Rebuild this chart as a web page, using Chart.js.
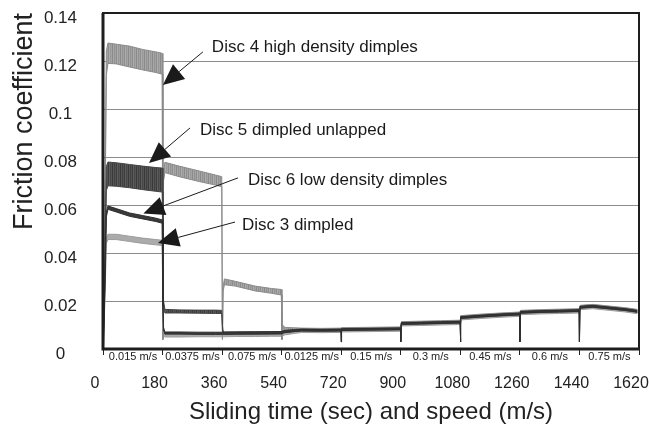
<!DOCTYPE html>
<html>
<head>
<meta charset="utf-8">
<script src="https://cdn.jsdelivr.net/npm/chart.js@4.4.0/dist/chart.umd.min.js"></script>
<style>
  html, body { margin: 0; padding: 0; background: #fff; }
</style>
</head>
<body>
<canvas id="friction" width="649" height="431"></canvas>
<script>
"use strict";

// sliding time (s) shared by all four disc traces
const timeSec = [0, 3, 6, 10, 15, 40, 80, 120, 160, 179,
  181, 183, 187, 230, 290, 340, 359, 361, 363, 367,
  400, 460, 510, 539, 541, 544, 550, 600, 660, 719,
  720, 721, 780, 840, 899, 900, 902, 960, 1020, 1079,
  1080, 1082, 1140, 1200, 1259, 1260, 1262, 1320, 1380, 1439,
  1440, 1442, 1480, 1530, 1580, 1615];

// each trace is noisy, so it is kept as an upper and lower edge of the band
const disc4Hi = [0, 0, 0.06, 0.124, 0.1275, 0.127, 0.1262, 0.1248, 0.1238, 0.1232,
  0.004, 0.074, 0.0778, 0.0762, 0.0742, 0.0725, 0.0718, 0.004, 0.026, 0.0292,
  0.0282, 0.0262, 0.0252, 0.0248, 0.004, 0.0098, 0.0090, 0.0087, 0.0086, 0.0087,
  0.0087, 0.0089, 0.0090, 0.0091, 0.0092, 0.0092, 0.0114, 0.0116, 0.0118, 0.0120,
  0.0120, 0.0139, 0.0145, 0.0150, 0.0154, 0.0154, 0.0161, 0.0164, 0.0166, 0.0168,
  0.0168, 0.0182, 0.0186, 0.0179, 0.0172, 0.0165];
const disc4Lo = [0, 0, 0.05, 0.114, 0.119, 0.1188, 0.1175, 0.1163, 0.1152, 0.1145,
  0.004, 0.070, 0.0735, 0.0718, 0.0698, 0.0683, 0.0676, 0.004, 0.024, 0.0268,
  0.0262, 0.0242, 0.0232, 0.0225, 0.004, 0.0086, 0.0078, 0.0075, 0.0074, 0.0075,
  0.0075, 0.0077, 0.0078, 0.0079, 0.0080, 0.0080, 0.0102, 0.0104, 0.0106, 0.0108,
  0.0108, 0.0127, 0.0133, 0.0138, 0.0142, 0.0142, 0.0149, 0.0152, 0.0154, 0.0156,
  0.0156, 0.0170, 0.0174, 0.0167, 0.0160, 0.0153];

const disc5Hi = [0, 0, 0.04, 0.076, 0.0779, 0.0776, 0.0769, 0.0762, 0.0756, 0.0754,
  0.040, 0.020, 0.0165, 0.0163, 0.0162, 0.0162, 0.0161, 0.010, 0.0075, 0.0071,
  0.0071, 0.0072, 0.0072, 0.0073, 0.0074, 0.0076, 0.0078, 0.0083, 0.0082, 0.0083,
  0.0083, 0.0085, 0.0086, 0.0087, 0.0088, 0.0088, 0.0110, 0.0112, 0.0114, 0.0116,
  0.0116, 0.0135, 0.0141, 0.0146, 0.0150, 0.0150, 0.0157, 0.0160, 0.0162, 0.0164,
  0.0164, 0.0178, 0.0182, 0.0175, 0.0168, 0.0161];
const disc5Lo = [0, 0, 0.03, 0.066, 0.068, 0.0678, 0.0672, 0.0664, 0.0657, 0.0654,
  0.036, 0.018, 0.0150, 0.0150, 0.0149, 0.0148, 0.0148, 0.008, 0.0065, 0.0062,
  0.0062, 0.0063, 0.0063, 0.0064, 0.0065, 0.0068, 0.0070, 0.0075, 0.0074, 0.0075,
  0.0075, 0.0077, 0.0078, 0.0079, 0.0080, 0.0080, 0.0102, 0.0104, 0.0106, 0.0108,
  0.0108, 0.0127, 0.0133, 0.0138, 0.0142, 0.0142, 0.0149, 0.0152, 0.0154, 0.0156,
  0.0156, 0.0170, 0.0174, 0.0167, 0.0160, 0.0153];

// disc 6 also carries the short stops between speed steps
const disc6Hi = [0, 0, 0.03, 0.057, 0.0596, 0.0585, 0.0567, 0.0556, 0.0545, 0.0538,
  0.020, 0.009, 0.0071, 0.0071, 0.0070, 0.0070, 0.0070, 0.0070, 0.0070, 0.0070,
  0.0071, 0.0071, 0.0072, 0.0072, 0.0073, 0.0074, 0.0076, 0.0082, 0.0081, 0.0082,
  0.0030, 0.0084, 0.0085, 0.0086, 0.0087, 0.0030, 0.0109, 0.0111, 0.0113, 0.0115,
  0.0030, 0.0134, 0.0140, 0.0145, 0.0149, 0.0030, 0.0156, 0.0159, 0.0161, 0.0163,
  0.0030, 0.0177, 0.0181, 0.0174, 0.0167, 0.0160];
const disc6Lo = [0, 0, 0.026, 0.055, 0.0582, 0.0571, 0.0553, 0.0542, 0.0531, 0.0524,
  0.018, 0.008, 0.0062, 0.0062, 0.0061, 0.0061, 0.0061, 0.0061, 0.0061, 0.0061,
  0.0062, 0.0062, 0.0063, 0.0063, 0.0064, 0.0066, 0.0068, 0.0076, 0.0075, 0.0076,
  0.0030, 0.0078, 0.0079, 0.0080, 0.0081, 0.0030, 0.0103, 0.0105, 0.0107, 0.0109,
  0.0030, 0.0128, 0.0134, 0.0139, 0.0143, 0.0030, 0.0150, 0.0153, 0.0155, 0.0157,
  0.0030, 0.0171, 0.0175, 0.0168, 0.0161, 0.0154];

const disc3Hi = [0, 0, 0.024, 0.046, 0.0478, 0.0478, 0.0470, 0.0462, 0.0456, 0.0453,
  0.015, 0.007, 0.0060, 0.0060, 0.0061, 0.0061, 0.0061, 0.0061, 0.0061, 0.0061,
  0.0062, 0.0062, 0.0063, 0.0063, 0.0064, 0.0066, 0.0069, 0.0077, 0.0076, 0.0077,
  0.0077, 0.0079, 0.0080, 0.0081, 0.0082, 0.0082, 0.0104, 0.0106, 0.0108, 0.0110,
  0.0110, 0.0129, 0.0135, 0.0140, 0.0144, 0.0144, 0.0151, 0.0154, 0.0156, 0.0158,
  0.0158, 0.0172, 0.0176, 0.0169, 0.0162, 0.0155];
const disc3Lo = [0, 0, 0.02, 0.044, 0.0456, 0.0456, 0.0448, 0.0440, 0.0434, 0.0431,
  0.012, 0.006, 0.0050, 0.0050, 0.0051, 0.0051, 0.0051, 0.0051, 0.0051, 0.0051,
  0.0052, 0.0052, 0.0053, 0.0053, 0.0054, 0.0056, 0.0059, 0.0069, 0.0068, 0.0069,
  0.0069, 0.0071, 0.0072, 0.0073, 0.0074, 0.0074, 0.0096, 0.0098, 0.0100, 0.0102,
  0.0102, 0.0121, 0.0127, 0.0132, 0.0136, 0.0136, 0.0143, 0.0146, 0.0148, 0.0150,
  0.0150, 0.0164, 0.0168, 0.0161, 0.0154, 0.0147];

// axis ticks
const timeTicks = [0, 180, 360, 540, 720, 900, 1080, 1260, 1440, 1620];
const speedLabels = ['0.015 m/s', '0.0375 m/s', '0.075 m/s', '0.0125 m/s', '0.15 m/s',
  '0.3 m/s', '0.45 m/s', '0.6 m/s', '0.75 m/s'];
const frictionTicks = [0, 0.02, 0.04, 0.06, 0.08, 0.1, 0.12, 0.14];

// arrow callouts, anchored in (time, friction) units
const callouts = [
  { text: 'Disc 4 high density dimples', at: [329, 0.1258], from: [302, 0.1238], tip: [181, 0.110] },
  { text: 'Disc 5 dimpled unlapped', at: [293, 0.0913], from: [263, 0.0921], tip: [139, 0.0775] },
  { text: 'Disc 6 low density dimples', at: [438, 0.0704], from: [408, 0.0713], tip: [122, 0.0565] },
  { text: 'Disc 3 dimpled', at: [420, 0.0517], from: [399, 0.0529], tip: [166, 0.0442] }
];

const FONT = '"Liberation Sans", Arial, sans-serif';
Chart.defaults.font.family = FONT;
Chart.defaults.color = '#222';

// streaky fill so the wide noisy bands are not flat
function streaks(shades) {
  const c = document.createElement('canvas');
  c.width = shades.length;
  c.height = 1;
  const g = c.getContext('2d');
  shades.forEach((s, i) => { g.fillStyle = s; g.fillRect(i, 0, 1, 1); });
  return g.createPattern(c, 'repeat');
}

// upper edge + lower edge filled between them
function band(hi, lo, line, fill, order) {
  const common = { borderColor: line, borderWidth: 1, pointRadius: 0, tension: 0, order: order };
  return [
    Object.assign({ data: timeSec.map((t, i) => ({ x: t, y: hi[i] })), fill: false }, common),
    Object.assign({ data: timeSec.map((t, i) => ({ x: t, y: lo[i] })), fill: '-1', backgroundColor: fill }, common)
  ];
}

const setTicks = list => scale => { scale.ticks = list.map(v => ({ value: v })); };
const fixBox = (w, h) => scale => {
  if (w) scale.width = w;
  if (h) scale.height = h;
  scale.paddingLeft = scale.paddingRight = scale.paddingTop = scale.paddingBottom = 0;
};

const calloutPlugin = {
  id: 'callouts',
  afterDraw(chart) {
    const { ctx, chartArea: a, scales: { x, y } } = chart;
    ctx.save();
    // frame round the plot
    ctx.strokeStyle = '#1e1e1e';
    ctx.lineWidth = 2;
    ctx.strokeRect(a.left, a.top, a.right - a.left, a.bottom - a.top);
    ctx.lineWidth = 3;
    ctx.beginPath();
    ctx.moveTo(a.left, a.top);
    ctx.lineTo(a.left, a.bottom);
    ctx.lineTo(a.right, a.bottom);
    ctx.stroke();

    ctx.fillStyle = '#1a1a1a';
    ctx.strokeStyle = '#1a1a1a';
    ctx.font = '17px ' + FONT;
    ctx.textBaseline = 'middle';
    for (const c of callouts) {
      ctx.fillText(c.text, x.getPixelForValue(c.at[0]), y.getPixelForValue(c.at[1]));
      const x0 = x.getPixelForValue(c.from[0]), y0 = y.getPixelForValue(c.from[1]);
      const x1 = x.getPixelForValue(c.tip[0]), y1 = y.getPixelForValue(c.tip[1]);
      const ang = Math.atan2(y1 - y0, x1 - x0);
      const len = 21, half = 9.5;
      const bx = x1 - len * Math.cos(ang), by = y1 - len * Math.sin(ang);
      ctx.lineWidth = 1;
      ctx.beginPath();
      ctx.moveTo(x0, y0);
      ctx.lineTo(bx, by);
      ctx.stroke();
      ctx.beginPath();
      ctx.moveTo(x1, y1);
      ctx.lineTo(bx - half * Math.sin(ang), by + half * Math.cos(ang));
      ctx.lineTo(bx + half * Math.sin(ang), by - half * Math.cos(ang));
      ctx.closePath();
      ctx.fill();
    }
    ctx.restore();
  }
};

const disc4Fill = streaks(['#8a8a8a', '#a8a8a8', '#929292', '#a2a2a2', '#8e8e8e', '#acacac', '#989898', '#a4a4a4']);
const disc5Fill = streaks(['#383838', '#585858', '#404040', '#525252', '#3c3c3c', '#5e5e5e', '#474747', '#545454']);

new Chart(document.getElementById('friction'), {
  type: 'line',
  data: {
    datasets: [
      ...band(disc6Hi, disc6Lo, '#2e2e2e', '#3a3a3a', 1),
      ...band(disc5Hi, disc5Lo, '#444444', disc5Fill, 2),
      ...band(disc4Hi, disc4Lo, '#8a8a8a', disc4Fill, 3),
      ...band(disc3Hi, disc3Lo, '#9c9c9c', '#ababab', 4)
    ]
  },
  options: {
    responsive: false,
    animation: false,
    layout: { padding: { top: 13, right: 10, left: 0, bottom: 0 } },
    plugins: { legend: { display: false }, tooltip: { enabled: false } },
    scales: {
      x: {
        type: 'linear', min: 0, max: 1620, position: 'bottom',
        afterBuildTicks: setTicks(timeTicks),
        afterFit: fixBox(0, 18),
        ticks: {
          autoSkip: false, maxRotation: 0, font: { size: 11 }, padding: -5, labelOffset: 30,
          callback: (v, i) => speedLabels[i] || ''
        },
        grid: { drawOnChartArea: false, drawTicks: true, tickLength: 6, color: '#222' },
        border: { display: false }
      },
      xNum: {
        type: 'linear', min: 0, max: 1620, position: 'bottom', weight: 1,
        afterBuildTicks: setTicks(timeTicks),
        afterFit: fixBox(0, 64),
        ticks: { autoSkip: false, maxRotation: 0, font: { size: 16 }, padding: 7, labelOffset: -8,
          callback: v => String(v) },
        grid: { display: false, drawTicks: false },
        border: { display: false },
        title: { display: true, text: 'Sliding time (sec) and speed (m/s)', font: { size: 24 },
          padding: { top: 2, bottom: 4 } }
      },
      y: {
        min: 0, max: 0.14,
        afterBuildTicks: setTicks(frictionTicks),
        afterFit: fixBox(103, 0),
        ticks: { font: { size: 17 }, crossAlign: 'center', padding: 26, labelOffset: 5,
          callback: v => String(Number(v.toFixed(2))) },
        grid: { color: '#8c8c8c', lineWidth: 1, drawTicks: false },
        border: { display: false },
        title: { display: true, text: 'Friction coefficient', font: { size: 27 }, align: 'end',
          padding: { top: 8, bottom: 4 } }
      }
    }
  },
  plugins: [calloutPlugin]
});
</script>
</body>
</html>
